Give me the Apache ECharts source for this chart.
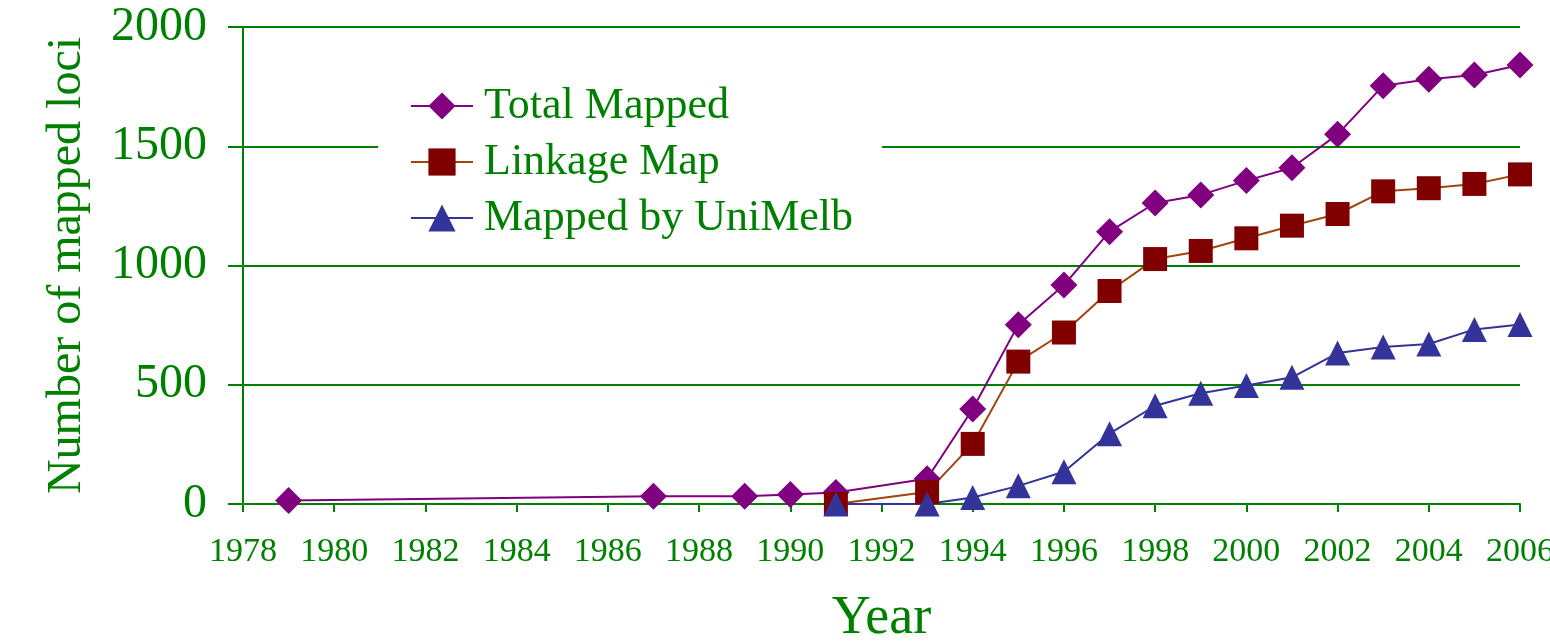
<!DOCTYPE html>
<html>
<head>
<meta charset="utf-8">
<script src="https://cdn.jsdelivr.net/npm/echarts@6/dist/echarts.min.js"></script>
<style>
  html, body { margin:0; padding:0; background:#fff; }
  #chart { width:1550px; height:641px; }
</style>
</head>
<body>
<div id="chart"></div>
<script>
// data
const totalYears = [1979, 1987, 1989, 1990, 1991, 1993, 1994, 1995, 1996, 1997, 1998, 1999, 2000, 2001, 2002, 2003, 2004, 2005, 2006];
const totalMapped = [15, 33, 33, 40, 48, 106, 398, 752, 918, 1142, 1262, 1296, 1356, 1410, 1550, 1754, 1781, 1799, 1841];
const linkYears = [1991, 1993, 1994, 1995, 1996, 1997, 1998, 1999, 2000, 2001, 2002, 2003, 2004, 2005, 2006];
const linkageMap = [0, 50, 252, 597, 719, 893, 1027, 1061, 1114, 1167, 1216, 1311, 1324, 1342, 1382];
const melbYears = [1991, 1993, 1994, 1995, 1996, 1997, 1998, 1999, 2000, 2001, 2002, 2003, 2004, 2005, 2006];
const uniMelb = [0, 0, 27, 76, 135, 295, 412, 464, 497, 531, 633, 658, 671, 732, 753];

const green = '#008000';
const font = '"Liberation Serif", "Times New Roman", serif';

const pairs = (xs, ys) => xs.map((x, i) => [x, ys[i]]);

const myChart = echarts.init(document.getElementById('chart'));
myChart.setOption({
    animation:false,
    backgroundColor:'#fff',
    grid:{ left:243, right:30, top:27, bottom:137, outerBoundsMode:'none', containLabel:false },
    legend:{
        orient:'vertical',
        left:378,
        top:64,
        padding:[20, 29, 20, 32],
        backgroundColor:'#fff',
        itemWidth:62,
        itemHeight:34,
        itemGap:12,
        textStyle:{ color:green, fontFamily:font, fontSize:44, padding:[0,0,0,6] },
        data:['Total Mapped', 'Linkage Map', 'Mapped by UniMelb']
    },
    xAxis:{
        type:'value',
        min:1978,
        max:2006,
        interval:2,
        name:'Year',
        nameLocation:'middle',
        nameGap:88,
        nameTextStyle:{ color:green, fontFamily:font, fontSize:54 },
        axisLine:{ lineStyle:{ color:green, width:2 } },
        axisTick:{ show:true, length:8, lineStyle:{ color:green, width:2 } },
        axisLabel:{ color:green, fontFamily:font, fontSize:34, margin:31, formatter:v=>String(v) },
        splitLine:{ show:false }
    },
    yAxis:{
        type:'value',
        min:0,
        max:2000,
        interval:500,
        name:'Number of mapped loci',
        nameLocation:'middle',
        nameGap:152,
        nameTextStyle:{ color:green, fontFamily:font, fontSize:48 },
        axisLine:{ show:true, lineStyle:{ color:green, width:2 } },
        axisTick:{ show:true, length:15, lineStyle:{ color:green, width:2 } },
        axisLabel:{ color:green, fontFamily:font, fontSize:48, margin:36, formatter:v=>String(v) },
        splitLine:{ lineStyle:{ color:green, width:2 } }
    },
    series:[
        {
            type:'line',
            name:'Total Mapped',
            data:pairs(totalYears, totalMapped),
            symbol:'diamond',
            symbolSize:27,
            lineStyle:{ color:'#800080', width:2 },
            itemStyle:{ color:'#800080' }
        },
        {
            type:'line',
            name:'Linkage Map',
            data:pairs(linkYears, linkageMap),
            symbol:'rect',
            symbolSize:24,
            lineStyle:{ color:'#a0440c', width:2 },
            itemStyle:{ color:'#800000' }
        },
        {
            type:'line',
            name:'Mapped by UniMelb',
            data:pairs(melbYears, uniMelb),
            symbol:'triangle',
            symbolSize:25,
            lineStyle:{ color:'#333399', width:2 },
            itemStyle:{ color:'#333399' }
        }
    ]
});
</script>
</body>
</html>
